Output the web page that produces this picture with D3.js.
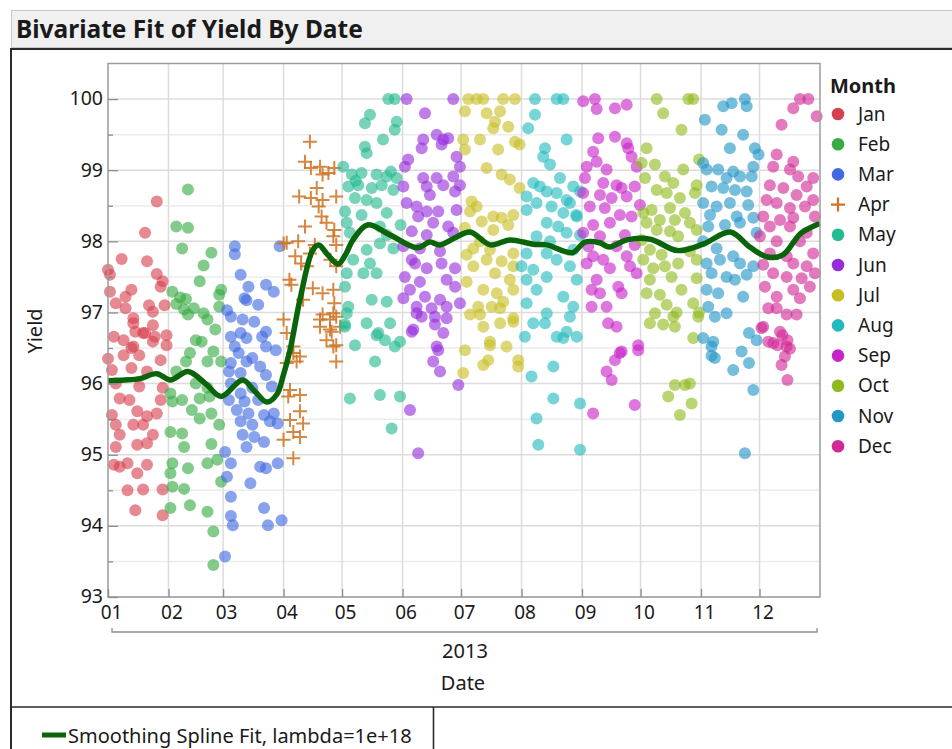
<!DOCTYPE html>
<html>
<head>
<meta charset="utf-8">
<script src="https://cdn.jsdelivr.net/npm/d3@7"></script>
<style>
  body { margin: 0; background: #fff; }
  svg text { font-family: "Noto Sans", "Open Sans", sans-serif; fill: #1a1a1a; }
</style>
</head>
<body>
<script>
// Yield by month, 2013. Each point is [day of month, yield].
var jan = [[26,98.56],[20,98.12],[8,97.75],[21,97.72],[26,97.54],[29,97.44],[28,97.36],[2,97.53],[2,97.29],[10,97.22],
  [13,97.32],[5,97.13],[10,97.06],[22,97.1],[24,97.01],[30,97.1],[14,96.92],[14,96.85],[24,96.82],[19,96.71],[31,96.68],
  [4,96.66],[9,96.61],[25,96.66],[13,96.5],[31,96.54],[15,96.73],[20,96.71],[14,96.52],[24,96.59],[9,96.4],[17,96.4],
  [28,96.33],[3,96.19],[13,96.22],[21,96.17],[5,96.0],[17,95.96],[29,95.94],[7,95.79],[12,95.77],[28,95.77],[16,95.61],
  [21,95.54],[26,95.58],[3,95.56],[5,95.42],[14,95.42],[19,95.42],[7,95.28],[24,95.28],[16,95.14],[5,95.11],[21,95.16],
  [4,94.86],[7,94.83],[11,94.88],[16,94.74],[21,94.86],[11,94.5],[19,94.51],[29,94.51],[15,94.22],[29,94.15],[1,97.6],[1,96.35]];
var feb = [[11,98.73],[5,98.21],[11,98.19],[8,97.9],[23,97.84],[19,97.66],[17,97.44],[28,97.32],[27,97.25],[3,97.29],
  [7,97.21],[10,97.19],[5,97.12],[9,97.04],[14,97.06],[11,96.97],[19,96.99],[21,96.9],[25,96.76],[27,97.08],[15,96.61],
  [18,96.59],[12,96.43],[24,96.45],[10,96.31],[21,96.31],[28,96.31],[5,96.17],[15,96.0],[21,95.94],[2,95.86],[3,95.75],
  [8,95.77],[17,95.79],[22,95.82],[13,95.63],[17,95.51],[23,95.58],[27,95.42],[2,95.32],[8,95.3],[9,95.11],[23,95.15],
  [26,94.93],[3,94.88],[2,94.74],[11,94.81],[21,94.88],[3,94.55],[9,94.52],[28,94.62],[2,94.25],[12,94.29],[21,94.2],
  [24,93.92],[24,93.45]];
var mar = [[7,97.93],[7,97.82],[30,97.93],[10,97.53],[14,97.36],[23,97.39],[27,97.29],[12,97.2],[13,97.17],[19,97.11],
  [3,97.03],[5,96.94],[11,96.9],[17,96.87],[23,96.73],[21,96.66],[10,96.71],[13,96.64],[5,96.66],[7,96.52],[23,96.52],
  [28,96.47],[5,96.29],[9,96.43],[13,96.31],[16,96.36],[20,96.24],[23,96.12],[4,96.17],[10,96.15],[5,96.0],[16,95.94],
  [26,95.96],[10,95.86],[4,95.77],[12,95.75],[19,95.77],[8,95.63],[14,95.58],[22,95.56],[27,95.58],[10,95.47],[16,95.42],
  [25,95.47],[29,95.44],[11,95.28],[17,95.25],[22,95.18],[13,95.11],[2,95.04],[5,94.88],[20,94.83],[23,94.81],[29,94.88],
  [3,94.69],[15,94.6],[5,94.41],[22,94.25],[5,94.14],[6,94.01],[24,94.01],[31,94.08],[2,93.57]];
var apr = [[14.5,99.4],[12,99.12],[15,99.03],[19.7,99.05],[21,98.94],[24,98.96],[27,99.03],[18,98.75],[9,98.63],[15,98.61],
  [21,98.58],[28,98.63],[19,98.49],[20.5,98.35],[23,98.26],[12,98.21],[27,98.16],[26.5,98.07],[2.6,97.98],[8.5,98.0],
  [17,97.95],[28,97.95],[7,97.79],[14.5,97.83],[25,97.74],[13,97.65],[28,97.65],[4,97.46],[16,97.34],[21,97.27],
  [26.5,97.32],[11,97.18],[27,97.13],[21,96.97],[24.8,96.9],[28,96.94],[19.7,96.8],[25.7,96.73],[30,96.8],[23,96.61],
  [28,96.54],[6,96.43],[1,96.9],[2.6,96.71],[6,96.52],[9.4,96.38],[2.6,96.29],[7.7,96.31],[4.3,95.91],[9.4,95.84],
  [3.4,95.82],[9.4,95.61],[4.3,95.49],[11,95.44],[6,95.32],[1,95.21],[9.4,95.25],[6,94.95],[26.5,96.52],[28,96.31],
  [24.8,96.76],[19.7,96.9],[26.5,96.99],[1,97.97],[5,97.39],[10,97.69]];
var may = [[24.7,100],[28,100],[15.3,99.78],[12.7,99.66],[29,99.68],[28,99.57],[22,99.43],[12.7,99.33],[13.6,99.24],
  [1.6,99.05],[6,98.94],[11,98.96],[18.7,98.94],[23.9,98.91],[29,98.89],[4.2,98.77],[9.3,98.79],[16.2,98.75],[21.3,98.79],
  [27.3,98.72],[7.6,98.61],[13.6,98.58],[18.7,98.54],[2.5,98.42],[11,98.37],[23.9,98.4],[3.4,98.26],[20.4,98.21],
  [31,98.23],[5,98.12],[23.9,98.09],[20.4,97.97],[13.6,97.88],[27.3,97.9],[6.7,97.74],[15.3,97.69],[3.4,97.55],
  [11.9,97.55],[18.7,97.55],[2.5,97.36],[4.2,97.08],[16.2,97.18],[23.9,97.15],[13.6,96.85],[25.6,96.85],[2.5,96.8],
  [19.6,96.71],[23,96.61],[7.6,96.54],[28,96.52],[30.7,96.59],[18.7,96.68],[17.9,96.31],[5,95.79],[20.4,95.84],
  [30.7,95.82],[26.4,95.37],[3.4,96.99],[2.5,96.83],[8,98.85],[26,98.98]];
var jun = [[3.1,100],[27,100],[12.5,99.8],[11.6,99.43],[18.5,99.5],[21.9,99.43],[24.4,99.45],[10.8,99.31],[21,99.36],
  [28.7,99.19],[3.9,99.15],[2.2,99.05],[30.4,99.05],[11.6,98.89],[18.5,98.89],[27,98.91],[1.4,98.77],[13.4,98.77],
  [21.9,98.79],[30.4,98.79],[15,98.65],[27.9,98.7],[3.1,98.54],[8.2,98.49],[13.4,98.42],[19.3,98.42],[28.7,98.44],
  [9,98.35],[16.7,98.26],[24.4,98.21],[5.7,98.14],[13.4,98.09],[27,98.12],[1.4,97.93],[9.9,97.9],[20.2,97.86],[5.7,97.74],
  [7.4,97.69],[13.4,97.62],[21,97.69],[27.9,97.62],[2.2,97.5],[9.9,97.43],[23.6,97.46],[27.9,97.36],[4.8,97.32],
  [12.5,97.22],[20.2,97.18],[1.4,97.2],[8.2,97.08],[15.9,97.06],[23.6,97.08],[30.4,97.13],[10.8,96.94],[17.6,96.94],
  [6.5,96.76],[21.9,96.71],[18.5,96.52],[8.2,96.99],[23.6,96.92],[5.7,96.73],[17.6,96.83],[19.3,96.47],[16.7,96.31],
  [20.2,96.17],[29.6,95.98],[4.8,95.63],[9,95.02]];
var jul = [[4.7,100],[9,100],[12.4,100],[22.6,100],[28.6,100],[3,99.83],[14.1,99.8],[21,99.83],[18.4,99.68],[17.5,99.59],
  [25.2,99.61],[2.1,99.43],[10.7,99.43],[28.6,99.4],[31,99.36],[3,99.29],[20,99.29],[14.1,99.03],[21.8,98.94],[26,98.87],
  [31,98.75],[6.4,98.56],[9,98.49],[5.6,98.42],[17.5,98.35],[21.8,98.33],[27.8,98.37],[11.6,98.28],[25.2,98.23],[3,98.19],
  [17.5,98.16],[10.7,98.0],[7.3,97.9],[15.8,97.88],[27.8,97.83],[3.9,97.81],[14.1,97.74],[21.8,97.72],[27.8,97.65],
  [7.3,97.65],[18.4,97.55],[26,97.46],[3.9,97.43],[12.4,97.32],[19.3,97.27],[27.8,97.32],[22.6,97.15],[9.8,97.08],
  [16.7,97.08],[10.7,96.97],[5.6,96.97],[27.8,96.92],[12.4,96.8],[21,96.85],[15.8,96.54],[24.3,96.52],[3,96.47],
  [21,97.06],[27.8,96.87],[15.8,96.59],[14.9,96.33],[12.4,96.26],[30.3,96.33],[30.3,96.24],[2.1,96.15]];
var aug = [[7.9,100],[19,100],[22.4,100],[7.9,99.78],[4.4,99.59],[24.1,99.43],[13,99.31],[12.1,99.19],[15.6,99.08],
  [20.7,98.89],[7,98.82],[10.4,98.77],[27.5,98.77],[13.9,98.7],[3.6,98.63],[19,98.68],[24.1,98.58],[31,98.7],[8.7,98.54],
  [16.4,98.49],[3.6,98.44],[22.4,98.4],[29.3,98.35],[13.9,98.26],[19.8,98.21],[24.1,98.12],[8.7,98.07],[31,98.09],
  [15.6,98.0],[3.6,97.83],[13.9,97.83],[27.5,97.88],[19,97.74],[1,97.65],[7,97.6],[25.8,97.65],[13.9,97.5],[3.6,97.46],
  [29.3,97.46],[8.7,97.32],[22.4,97.22],[3.6,97.13],[27.5,97.08],[13.9,96.99],[25.8,96.94],[7,96.85],[13,96.85],
  [2.7,96.66],[19,96.66],[22.4,96.64],[29.3,96.66],[24.1,96.73],[17.3,96.24],[6.1,96.1],[17.3,95.79],[31,95.72],
  [8.7,95.51],[9.6,95.14],[31,95.07],[25.8,98.54],[29,98.37]];
var sep = [[1.6,99.97],[7.6,100],[8.5,99.86],[17.9,99.87],[23.9,99.92],[9.3,99.45],[17.9,99.47],[23.9,99.38],[24.7,99.31],
  [6.7,99.26],[26.4,99.19],[8.5,99.12],[3.4,99.05],[13.6,99.01],[29,99.05],[2.5,98.89],[11.9,98.82],[18.7,98.79],
  [21.3,98.75],[28,98.77],[1.6,98.68],[10.2,98.65],[16.2,98.61],[23.9,98.63],[5,98.49],[12.7,98.47],[30.7,98.51],
  [20.4,98.37],[26.4,98.35],[6.7,98.23],[15.3,98.26],[1.6,98.12],[10.2,98.07],[23,98.09],[4.2,97.93],[18.7,97.93],
  [28,97.95],[6.7,97.79],[11.9,97.74],[23.9,97.79],[3.4,97.69],[15.3,97.62],[25.6,97.65],[29,97.55],[8.5,97.46],
  [19.6,97.36],[5.9,97.32],[10.2,97.27],[21.3,97.27],[5.9,97.08],[13.6,97.08],[14.4,96.85],[18.7,96.8],[29.8,96.54],
  [20.4,96.43],[29.8,96.47],[21.3,96.45],[17.9,96.33],[13.6,96.17],[16.2,96.05],[28,95.7],[6.7,95.58]];
var oct = [[9.3,100],[25.5,100],[28,100],[12.6,99.8],[22,99.57],[4.1,99.31],[1.6,99.1],[8.4,99.08],[22.9,99.01],[31,99.15],
  [3.3,98.89],[13.5,98.91],[17.8,98.82],[9.3,98.72],[14.4,98.68],[29.8,98.79],[21.2,98.61],[28.9,98.68],[2.4,98.4],
  [6.7,98.44],[16.1,98.47],[23.8,98.4],[4.1,98.26],[10.9,98.3],[18.6,98.3],[26.3,98.26],[9.3,98.16],[16.1,98.14],
  [29.8,98.16],[1.6,98.02],[20.3,98.07],[5.8,97.88],[11.8,97.81],[26.3,97.86],[2.4,97.74],[7.5,97.62],[13.5,97.65],
  [20.3,97.69],[29.8,97.74],[5.8,97.46],[16.9,97.5],[29.8,97.48],[4.1,97.27],[10.9,97.25],[22,97.32],[14.4,97.11],
  [28,97.13],[8.4,96.99],[17.8,96.94],[30.6,96.94],[5.8,96.85],[12.6,96.83],[18.6,96.8],[28,96.64],[19.5,97.0],[31,97.0],
  [18.6,95.98],[23.8,95.98],[26.3,96.0],[15.2,95.82],[27.2,95.72],[21.2,95.56]];
var nov = [[12.4,99.9],[16.7,99.94],[23.5,100],[24.4,99.9],[3,99.71],[11.6,99.57],[22.6,99.5],[15.8,99.31],[28.6,99.31],
  [30.5,99.22],[2.1,99.1],[3.9,99.01],[9.8,99.01],[17.5,98.98],[27.8,99.05],[14.1,98.89],[21,98.91],[27,98.91],[6.4,98.77],
  [12.4,98.75],[18.4,98.72],[24.4,98.7],[2.1,98.54],[9,98.49],[15.8,98.54],[25.2,98.51],[5.6,98.37],[19.3,98.35],
  [27.8,98.33],[4.7,98.21],[13.3,98.23],[21,98.26],[29.5,98.12],[2.1,98.0],[9,97.9],[3.9,97.69],[10.7,97.74],[17.5,97.79],
  [21,97.69],[27.8,97.65],[6.4,97.55],[14.1,97.5],[18.4,97.46],[24.4,97.53],[3.9,97.32],[9.8,97.27],[22.6,97.22],
  [4.7,97.08],[14.1,96.99],[8.1,96.94],[2.1,96.64],[6.4,96.52],[25.6,96.71],[29.5,96.61],[7.3,96.59],[6.4,96.39],
  [8.1,96.36],[17.5,96.19],[21.8,96.45],[25.6,96.29],[27.8,95.91],[23.5,95.02]];
var dec = [[21.7,100],[26,100],[18.3,99.87],[30.3,99.76],[12.3,99.64],[9.8,99.22],[18.3,99.12],[16.6,99.01],[28.5,98.89],
  [8,99.05],[20.8,98.91],[6.3,98.79],[13.2,98.75],[25.2,98.77],[20,98.65],[28.5,98.58],[4.6,98.58],[9.8,98.54],
  [16.6,98.47],[24.3,98.49],[2.9,98.35],[11.5,98.3],[18.3,98.33],[29.4,98.35],[6.3,98.21],[16.6,98.21],[25.2,98.12],
  [1.2,98.07],[9.8,98.0],[21.7,98.0],[6.3,97.83],[14.9,97.79],[28.5,97.83],[2.9,97.67],[18.3,97.69],[25.2,97.65],
  [8,97.55],[14.9,97.5],[22.6,97.48],[29.4,97.55],[3.8,97.36],[18.3,97.32],[26.8,97.36],[9.8,97.22],[21.7,97.2],
  [5.5,97.06],[9.8,97.06],[14.9,96.97],[20,96.97],[2.9,96.8],[11.5,96.73],[8,96.57],[14.9,96.52],[2,96.78],[5.5,96.59],
  [10.2,96.54],[12.7,96.68],[15.3,96.61],[16.6,96.49],[14,96.38],[12.3,96.26],[15.3,96.05]];

var monthData   = [jan, feb, mar, apr, may, jun, jul, aug, sep, oct, nov, dec];
var monthNames  = ["Jan","Feb","Mar","Apr","May","Jun","Jul","Aug","Sep","Oct","Nov","Dec"];
var monthColors = ["#d6414f","#37ab42","#4169e1","#cd7322","#23b991","#962ddc",
                   "#c8be23","#23b9be","#c823c8","#91b91e","#2396c8","#d22896"];

// Smoothing spline: day of year and fitted yield
var splineDay   = [0,8.7,16.4,25,32,41,50,58,69,75,81.5,86.6,89.7,93.3,98.4,105,108,113,118,121.5,125.6,133,144.6,
                   158.4,165,170,178,185.6,196,206,218,225,238,244.5,252,257,266,278,292,305,319,329,338,346,355,363,365];
var splineYield = [96.04,96.05,96.07,96.14,96.05,96.17,96.0,95.82,96.05,95.9,95.74,95.85,96.1,96.47,97.18,97.88,97.95,
                   97.8,97.68,97.8,98.02,98.23,98.09,97.91,97.99,97.95,98.05,98.13,97.95,98.02,97.96,97.95,97.84,97.99,
                   97.98,97.92,98.02,98.03,97.87,97.96,98.13,97.92,97.78,97.81,98.11,98.23,98.25];

var yMajor = [93, 94, 95, 96, 97, 98, 99, 100];
var yMinor = [93.5, 94.5, 95.5, 96.5, 97.5, 98.5, 99.5];
var xYear  = "2013";

var width = 952, height = 749;
var plot = {left: 108, right: 820, top: 63.5, bottom: 597};
var DAY = 864e5;

var svg = d3.select("body").append("svg")
  .attr("width", width)
  .attr("height", height);

var x = d3.scaleUtc()
  .domain([new Date(Date.UTC(2013, 0, 1)), new Date(Date.UTC(2014, 0, 1))])
  .range([plot.left, plot.right]);
var y = d3.scaleLinear()
  .domain([93, 100.5])
  .range([plot.bottom, plot.top]);

function pointDate(m, day) {
  return new Date(Date.UTC(2013, m, 1) + (day - 1) * DAY);
}

// Report frame and title bar
svg.append("rect").attr("x", 11.5).attr("y", 10.5).attr("width", 945).attr("height", 37)
  .attr("fill", "#f0f0f0").attr("stroke", "#c9c9c9");
svg.append("text").attr("x", 16).attr("y", 38)
  .style("font-size", "24.5px").style("font-weight", "bold")
  .text("Bivariate Fit of Yield By Date");
svg.append("path").attr("d", "M11,749V49H952").attr("fill", "none").attr("stroke", "#2b2b2b").attr("stroke-width", 2);
svg.append("path").attr("d", "M11,707H952M433.5,707V749").attr("fill", "none").attr("stroke", "#2b2b2b").attr("stroke-width", 1.6);

var monthTicks = d3.range(12).map(function(m) { return new Date(Date.UTC(2013, m, 1)); });

// Grid lines
var grid = svg.append("g");
grid.selectAll("line.minor").data(yMinor).enter().append("line")
  .attr("x1", plot.left).attr("x2", plot.right)
  .attr("y1", function(d) { return y(d); }).attr("y2", function(d) { return y(d); })
  .attr("stroke", "#ececec").attr("stroke-width", 1.5);
grid.selectAll("line.major").data(yMajor).enter().append("line")
  .attr("x1", plot.left).attr("x2", plot.right)
  .attr("y1", function(d) { return y(d); }).attr("y2", function(d) { return y(d); })
  .attr("stroke", "#dcdcdc").attr("stroke-width", 1.5);
grid.selectAll("line.vert").data(monthTicks.slice(1)).enter().append("line")
  .attr("x1", function(d) { return x(d); }).attr("x2", function(d) { return x(d); })
  .attr("y1", plot.top).attr("y2", plot.bottom)
  .attr("stroke", "#dcdcdc").attr("stroke-width", 1.5);

// Points, April uses a cross marker
var dots = svg.append("g");
monthData.forEach(function(rows, m) {
  if (m === 3) {
    dots.selectAll("path.m" + m).data(rows).enter().append("path")
      .attr("d", function(d) {
        var cx = x(pointDate(m, d[0])), cy = y(d[1]);
        return "M" + (cx - 7) + "," + cy + "H" + (cx + 7) + "M" + cx + "," + (cy - 7) + "V" + (cy + 7);
      })
      .attr("stroke", monthColors[m]).attr("stroke-width", 2).attr("stroke-opacity", 0.85);
  } else {
    dots.selectAll("circle.m" + m).data(rows).enter().append("circle")
      .attr("cx", function(d) { return x(pointDate(m, d[0])); })
      .attr("cy", function(d) { return y(d[1]); })
      .attr("r", 6)
      .attr("fill", monthColors[m]).attr("fill-opacity", 0.62);
  }
});

// Spline fit
var line = d3.line()
  .x(function(d, i) { return x(new Date(Date.UTC(2013, 0, 1) + d * DAY)); })
  .y(function(d, i) { return y(splineYield[i]); })
  .curve(d3.curveCatmullRom);
svg.append("path").datum(splineDay)
  .attr("d", line)
  .attr("fill", "none").attr("stroke", "#0a650a").attr("stroke-width", 5.5)
  .attr("stroke-linejoin", "round");

// Plot frame
svg.append("rect").attr("x", plot.left).attr("y", plot.top)
  .attr("width", plot.right - plot.left).attr("height", plot.bottom - plot.top)
  .attr("fill", "none").attr("stroke", "#9c9c9c").attr("stroke-width", 1.5);

// Axes with inward ticks
var yAxis = svg.append("g").attr("transform", "translate(" + plot.left + ",0)")
  .call(d3.axisLeft(y).tickValues(yMajor).tickSize(-10).tickPadding(3).tickFormat(d3.format("d")));
svg.append("g").attr("transform", "translate(" + plot.left + ",0)")
  .call(d3.axisLeft(y).tickValues(yMinor).tickSize(-5).tickFormat(""));
yAxis.selectAll("text").style("font-size", "19.5px")
  .attr("x", -5)
  .attr("dy", "0.3em");

var xAxis = svg.append("g").attr("transform", "translate(0," + plot.bottom + ")")
  .call(d3.axisBottom(x).tickValues(monthTicks).tickSize(-8).tickPadding(9).tickFormat(d3.utcFormat("%m")));
xAxis.selectAll("text").style("font-size", "19px").attr("dx", 3);

svg.selectAll(".domain").remove();
svg.selectAll(".tick line").attr("stroke", "#8c8c8c").attr("stroke-width", 1.3);

// Year bracket and axis titles
svg.append("path").attr("d", "M112,628V632H817V628")
  .attr("fill", "none").attr("stroke", "#8c8c8c").attr("stroke-width", 1.3);
svg.append("text").attr("x", 465).attr("y", 658).attr("text-anchor", "middle")
  .style("font-size", "20px").text(xYear);
svg.append("text").attr("x", 463).attr("y", 690).attr("text-anchor", "middle")
  .style("font-size", "20px").text("Date");
svg.append("text").attr("transform", "translate(42,331) rotate(-90)").attr("text-anchor", "middle")
  .style("font-size", "20px").text("Yield");

// Month legend
var legend = svg.append("g").attr("transform", "translate(830,0)");
legend.append("text").attr("x", 0).attr("y", 93)
  .style("font-size", "20px").style("font-weight", "bold").text("Month");
var item = legend.selectAll("g.item").data(monthNames).enter().append("g")
  .attr("transform", function(d, i) { return "translate(0," + (114 + i * 30.2) + ")"; });
item.each(function(d, i) {
  var g = d3.select(this);
  if (i === 3) {
    g.append("path").attr("d", "M1,0H15M8,-7V7").attr("stroke", monthColors[i]).attr("stroke-width", 2.2);
  } else {
    g.append("circle").attr("cx", 8).attr("cy", 0).attr("r", 6.3).attr("fill", monthColors[i]);
  }
});
item.append("text").attr("x", 28).attr("dy", "0.35em").style("font-size", "19px").text(function(d) { return d; });

// Fit legend
svg.append("line").attr("x1", 42).attr("x2", 66).attr("y1", 735).attr("y2", 735)
  .attr("stroke", "#0a650a").attr("stroke-width", 5);
svg.append("text").attr("x", 68).attr("y", 743)
  .style("font-size", "20px").text("Smoothing Spline Fit, lambda=1e+18");
</script>
</body>
</html>
